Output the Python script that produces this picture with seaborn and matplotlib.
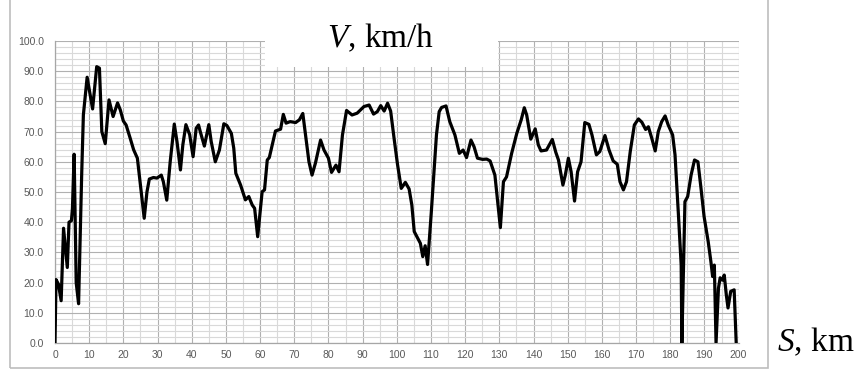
import numpy as np
import pandas as pd
import matplotlib
matplotlib.use("Agg")
import matplotlib.pyplot as plt
from matplotlib.patches import Rectangle
import seaborn as sns

# ---- data (distance S in km, speed V in km/h) ----
distance_km = [
    0, 0.3, 1.0, 1.8, 2.5, 3.6, 4.1, 4.8, 5.1, 5.6, 6.2, 6.9, 7.8, 8.3, 9.4,
    11.0, 12.2, 13.0, 13.7, 14.7, 15.8, 17.0, 18.3, 19.1, 20.0, 20.8, 22.0,
    23.0, 24.1, 25.1, 26.1, 26.9, 27.6, 28.8, 29.8, 31.1, 31.7, 32.7, 33.7,
    34.9, 35.7, 36.7, 37.4, 38.3, 39.4, 40.4, 41.3, 42.0, 42.5, 43.7, 45.0,
    45.7, 46.9, 48.1, 49.4, 50.3, 51.6, 52.3, 52.9, 54.3, 55.7, 56.7, 57.7,
    58.4, 59.3, 60.6, 61.3, 62.1, 62.7, 64.5, 65.3, 66.0, 66.8, 67.6, 68.8,
    70.4, 71.5, 72.5, 73.3, 74.3, 75.2, 76.2, 77.7, 78.7, 80.0, 80.9, 82.2,
    83.1, 84.1, 85.3, 86.9, 88.4, 90.4, 91.9, 93.2, 94.3, 95.3, 96.3, 97.3,
    98.2, 99.2, 100.2, 101.3, 102.5, 103.6, 104.4, 105.1, 106.1, 106.9,
    107.6, 108.3, 109.0, 110.1, 111.6, 112.4, 113.1, 114.4, 115.5, 117.0,
    118.3, 119.4, 120.4, 121.7, 122.6, 123.6, 125.1, 126.3, 127.3, 128.7,
    129.5, 130.3, 131.2, 132.1, 133.6, 135.1, 136.4, 137.3, 138.0, 139.2,
    140.5, 141.4, 142.2, 143.8, 145.5, 146.5, 147.3, 148.6, 149.3, 150.2,
    151.0, 152.0, 152.9, 153.9, 155.0, 156.2, 157.1, 158.4, 159.4, 160.9,
    162.1, 163.3, 164.5, 165.3, 166.3, 167.2, 168.3, 169.5, 170.7, 171.7,
    172.8, 173.6, 174.6, 175.6, 176.5, 177.5, 178.5, 179.4, 180.7, 181.4,
    182.4, 183.2, 183.4, 184.3, 185.1, 186.1, 187.1, 188.1, 189.0, 189.9,
    191.1, 191.9, 192.4, 192.9, 193.4, 194.1, 194.6, 195.3, 195.8, 196.4,
    196.9, 197.7, 198.7, 199.3,
]
speed_kmh = [
    0, 21, 19.5, 14, 38, 25, 40, 40.5, 44.5, 62.5, 20, 13, 55.5, 75.5, 88,
    77.5, 91.5, 91, 70, 66, 80.5, 75, 79.5, 77.2, 73.5, 72.2, 67.8,
    64, 61.2, 51.2, 41.3, 50, 54.3, 54.8, 54.6, 55.6, 53.4, 47.3, 60,
    72.5, 66.6, 57.3, 65.6, 72.3, 69, 61.7, 71.1, 72.2, 70, 65.2, 72.3,
    66.7, 60, 63.9, 72.6, 72, 69.4, 64.5, 56.2, 52.3, 47.4, 48.5, 45.7,
    44.6, 35.2, 50.1, 50.7, 60.6, 61.4, 70.2, 70.5, 70.8, 75.7, 72.8, 73.3,
    73, 73.9, 76, 68.9, 60, 55.6, 59.6, 67.2, 63.9, 61.2, 56.5, 58.9,
    56.7, 68.9, 77, 75.5, 76.1, 78.3, 78.8, 75.8, 76.6, 78.6, 76.8, 79.4,
    76.8, 67.8, 59.2, 51.2, 53.2, 51, 45.7, 36.9, 34.7, 33,
    28.6, 32.2, 26, 43.4, 68.9, 76.6, 78, 78.5, 73.3, 68.9,
    62.8, 63.9, 61.4, 67.2, 65, 61.2, 60.8, 60.9, 60.3, 55.6,
    46.8, 38.2, 53.4, 55, 62.8, 69.4, 73.9, 77.9, 75.5, 67.5,
    70.9, 65.6, 63.6, 63.9, 67.4, 63.2, 60.6, 52.3, 55.6, 61.2,
    56.7, 47, 56.7, 60, 73, 72.4, 68.9, 62.3, 63.4, 68.7,
    63.9, 60.3, 59.2, 53.4, 50.7, 53.4, 63.4, 72.2, 74.2, 73.1,
    70.7, 71.6, 67.8, 63.6, 70, 73.3, 75.2, 72.2, 68.9, 62.3,
    42.4, 25.8, 0, 46.8, 48.5, 55.6, 60.6, 60, 51.2, 41.9,
    33.6, 26.9, 22, 25.8, 0, 18.1, 21.6, 20.8, 22.5, 16,
    11.6, 17.1, 17.6, 0,
]
x_ticks = list(range(0, 201, 10))
y_ticks = list(range(0, 101, 10))
title_text = r"$V$, km/h"
xlabel_text = r"$S$, km"

df = pd.DataFrame({"km": distance_km, "speed": speed_kmh})

sns.set_style("white")
plt.rcParams["font.family"] = ["Liberation Sans", "DejaVu Sans"]
plt.rcParams["mathtext.fontset"] = "custom"
plt.rcParams["mathtext.it"] = "Liberation Serif:italic"
plt.rcParams["mathtext.rm"] = "Liberation Serif"

W, H = 859, 370
fig = plt.figure(figsize=(W / 100, H / 100), dpi=100)
ax = fig.add_axes([55 / W, 1 - 343 / H, (738.6 - 55) / W, (343 - 41) / H])

# frame around the chart image
fig.patches.append(Rectangle((10 / W, 2 / H), (768 - 10) / W, 1 - 2 / H + 0.01,
                             transform=fig.transFigure, fill=False,
                             edgecolor="#bdbdbd", lw=1.2, zorder=0))

sns.lineplot(data=df, x="km", y="speed", sort=False, estimator=None,
             color="black", lw=2.3, ax=ax, zorder=3,
             solid_joinstyle="round", solid_capstyle="round")

ax.set_xlim(0, 200)
ax.set_ylim(0, 100)
ax.set_xticks(x_ticks)
ax.set_xticks(np.arange(0, 201, 5), minor=True)
ax.set_yticks(y_ticks)
ax.set_yticks(np.arange(0, 101, 2), minor=True)
ax.set_yticklabels([f"{v:.1f}" for v in y_ticks])
ax.set_xticklabels([str(v) for v in x_ticks])
ax.grid(which="major", color="#b0b0b0", lw=0.8)
ax.grid(which="minor", color="#d9d9d9", lw=0.8)
ax.set_axisbelow(True)
ax.tick_params(which="both", length=0)
ax.tick_params(axis="y", pad=8, labelsize=7.5, labelcolor="#595959")
ax.tick_params(axis="x", pad=5, labelsize=7.5, labelcolor="#595959")
ax.set_xlabel("")
ax.set_ylabel("")
for s in ["top", "right"]:
    ax.spines[s].set_visible(False)
for s in ["left", "bottom"]:
    ax.spines[s].set_color("#a6a6a6")
    ax.spines[s].set_linewidth(0.9)

# white box behind the title
ax.add_patch(Rectangle((61.5, 91.5), 129.6 - 61.5, 30, facecolor="white",
                       edgecolor="none", zorder=2.5, clip_on=False))

fig.text(381 / W, 1 - 38 / H, title_text, ha="center", va="center",
         fontsize=24, family="Liberation Serif", color="black")
fig.text(777 / W, 1 - 342 / H, xlabel_text, ha="left", va="center",
         fontsize=24, family="Liberation Serif", color="black")

fig.savefig("out.png", dpi=100)
